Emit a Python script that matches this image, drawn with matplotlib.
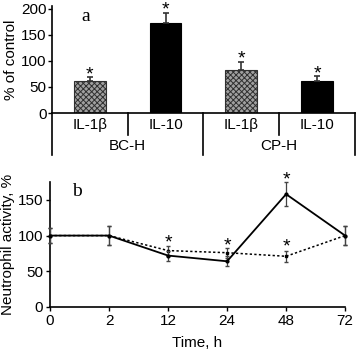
import matplotlib
matplotlib.use("Agg")
import matplotlib.pyplot as plt
import numpy as np

plt.rcParams['font.family'] = ['Liberation Sans', 'DejaVu Sans']
plt.rcParams['hatch.linewidth'] = 0.7

# Panel a data
bar_labels = ["IL-1β", "IL-10", "IL-1β", "IL-10"]
group_labels = ["BC-H", "CP-H"]
bar_values = [61, 173, 82, 61]
bar_errors = [8, 19, 16, 9]
bar_kind = ["il1", "il10", "il1", "il10"]

# Panel b data
time_labels = ["0", "2", "12", "24", "48", "72"]
solid_vals = [100, 100, 72, 64, 158, 100]
solid_err = [10, 13, 7, 7, 17, 13]
dotted_vals = [100, 100, 79, 76, 71, 100]
dotted_err = [10, 13, 7, 7, 8, 13]
star_solid = [False, False, False, True, True, False]
star_dotted = [False, False, True, False, True, False]

FS = 11

fig = plt.figure(figsize=(3.61, 3.51), dpi=100)

# ---- Panel a ----
axa = fig.add_axes([0.144, 0.678, 0.839, 0.305])
x = np.arange(len(bar_values))
for i, (v, e, k) in enumerate(zip(bar_values, bar_errors, bar_kind)):
    if k == "il1":
        axa.bar(x[i], v, width=0.42, facecolor='#a0a0a0', edgecolor='#303030',
                hatch='xxxxxx', linewidth=0.8, zorder=2)
    else:
        axa.bar(x[i], v, width=0.42, facecolor='black', edgecolor='black',
                linewidth=0.8, zorder=2)
    axa.errorbar(x[i], v, yerr=[[0], [e]], fmt='none', ecolor='#333333',
                 elinewidth=1.2, capsize=2, capthick=1.2, zorder=3)
    axa.text(x[i], v + e + 21, "*", ha='center', va='top', fontsize=14)

axa.set_xlim(-0.5, 3.5)
axa.set_ylim(0, 205)
axa.set_yticks([0, 50, 100, 150, 200])
axa.tick_params(axis='y', labelsize=FS, length=3, width=1, pad=1)
axa.set_xticks([])
axa.spines['top'].set_visible(False)
axa.spines['right'].set_visible(False)
axa.spines['left'].set_linewidth(1.2)
axa.spines['bottom'].set_linewidth(1.2)
axa.set_ylabel("% of control", fontsize=FS, labelpad=2)
axa.text(0.11, 0.98, "a", transform=axa.transAxes, fontsize=14,
         family='Liberation Serif', va='top', ha='center')

tr = axa.get_xaxis_transform()
for i, lab in enumerate(bar_labels):
    axa.text(x[i], -0.11, lab, transform=tr, ha='center', va='center', fontsize=FS)
for xb, yb in [(-0.5, -0.393), (0.5, -0.206), (1.5, -0.393), (2.5, -0.206), (3.5, -0.393)]:
    axa.plot([xb, xb], [0, yb], transform=tr, color='black', lw=1.2, clip_on=False)
for gi, glab in enumerate(group_labels):
    axa.text(0.5 + 2 * gi, -0.31, glab, transform=tr, ha='center', va='center', fontsize=FS)

# ---- Panel b ----
axb = fig.add_axes([0.1385, 0.1254, 0.8175, 0.356])
t = np.arange(len(time_labels))
axb.errorbar(t, dotted_vals, yerr=dotted_err, fmt='s', ls=(0, (1.5, 1.5)), color='black',
             ms=2, lw=1.1, ecolor='#444444', elinewidth=0.9, capsize=1.5, clip_on=False, zorder=3)
axb.errorbar(t, solid_vals, yerr=solid_err, fmt='o', ls='-', color='black',
             ms=2, lw=1.3, ecolor='#444444', elinewidth=0.9, capsize=1.5, clip_on=False, zorder=4)
for i in range(len(t)):
    if star_solid[i]:
        top = max(solid_vals[i] + solid_err[i], dotted_vals[i] + dotted_err[i])
        axb.text(t[i], top + 15, "*", ha='center', va='top', fontsize=14)
    if star_dotted[i]:
        if star_solid[i]:
            y = dotted_vals[i] + dotted_err[i] + 17
        else:
            y = max(solid_vals[i] + solid_err[i], dotted_vals[i] + dotted_err[i]) + 15
        axb.text(t[i], y, "*", ha='center', va='top', fontsize=14)

axb.set_xlim(0, 5)
axb.set_ylim(0, 175)
axb.set_xticks(t)
axb.set_xticklabels(time_labels)
axb.set_yticks([0, 50, 100, 150])
axb.tick_params(labelsize=FS, length=3, width=1, pad=2)
axb.spines['top'].set_visible(False)
axb.spines['right'].set_visible(False)
axb.spines['left'].set_linewidth(1.2)
axb.spines['bottom'].set_linewidth(1.2)
axb.set_ylabel("Neutrophil activity, %", fontsize=FS, labelpad=2)
axb.set_xlabel("Time, h", fontsize=FS, labelpad=6)
axb.text(0.09, 0.99, "b", transform=axb.transAxes, fontsize=14,
         family='Liberation Serif', va='top', ha='center')

fig.savefig("out.png", dpi=100)
